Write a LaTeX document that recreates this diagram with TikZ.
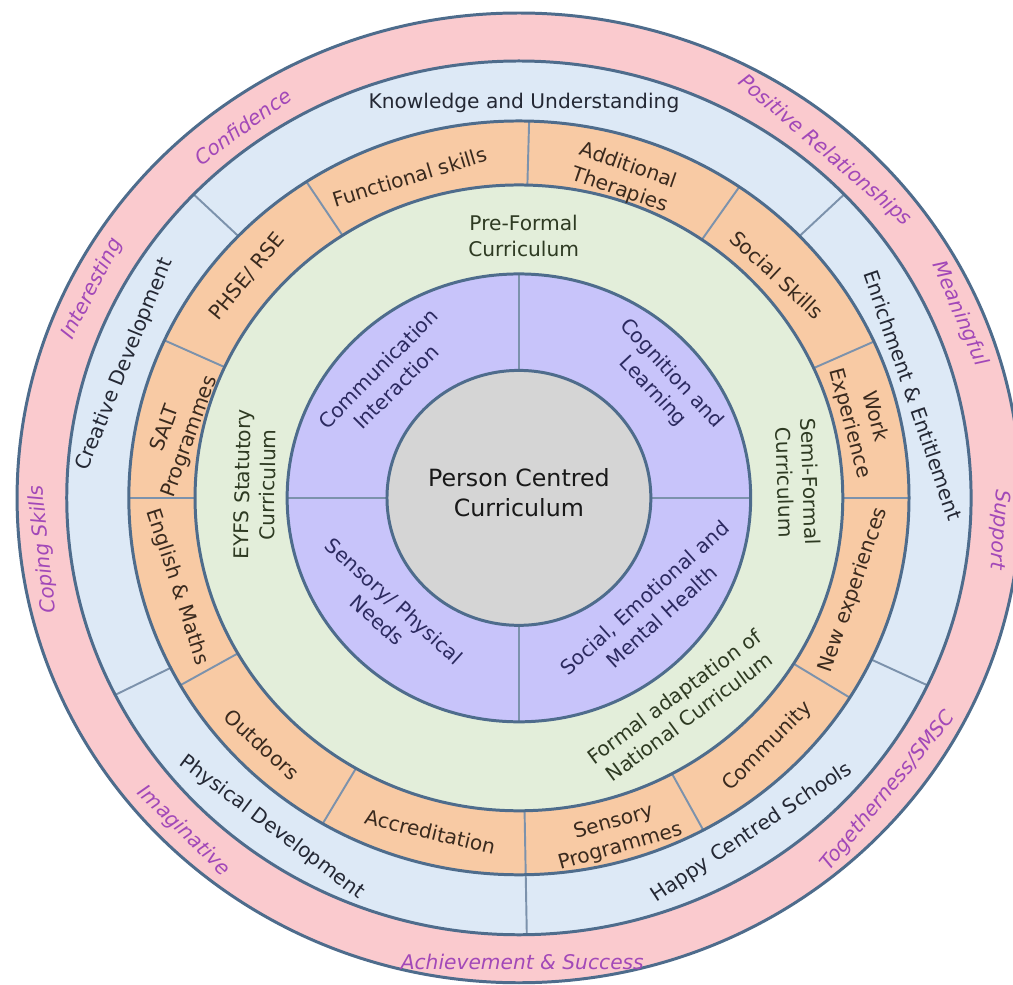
\documentclass[tikz,border=0pt]{standalone}
\usepackage{fontspec}
\setmainfont{DejaVu Sans}
\usepackage{xcolor}
\usepackage{tikz}
\definecolor{pinkband}{RGB}{250,202,206}
\definecolor{blueband}{RGB}{221,233,246}
\definecolor{orangeband}{RGB}{248,202,164}
\definecolor{greenband}{RGB}{227,238,218}
\definecolor{purpleband}{RGB}{200,196,250}
\definecolor{greyband}{RGB}{213,213,213}
\definecolor{ringline}{RGB}{78,108,140}
\definecolor{spokeline}{RGB}{124,146,172}
\definecolor{valuecol}{RGB}{162,72,184}
\definecolor{needcol}{RGB}{44,42,96}
\definecolor{currcol}{RGB}{46,58,34}
\definecolor{offercol}{RGB}{58,42,30}
\definecolor{aimcol}{RGB}{36,40,52}
\tikzstyle{ring} = [draw=ringline, line width=1.7pt]
\tikzstyle{spoke} = [draw=spokeline, line width=1.1pt]
\tikzstyle{lbl} = [align=center, inner sep=0pt]
\tikzstyle{valuetext} = [lbl, text=valuecol, font=\fontsize{11.5}{14.5}\selectfont\itshape]
\tikzstyle{aimtext} = [lbl, text=aimcol]
\tikzstyle{offertext} = [lbl, text=offercol]
\tikzstyle{currtext} = [lbl, text=currcol]
\tikzstyle{needtext} = [lbl, text=needcol]
\tikzstyle{core} = [lbl, text=black!90, font=\fontsize{13.5}{17}\selectfont]

\begin{document}
\begin{tikzpicture}[xscale=1.035, font=\fontsize{11.5}{14.5}\selectfont]
    \useasboundingbox[fill=white] (-10.03,-9.74) rectangle (9.55,9.96);
    \foreach \rad/\col in {9.70/pinkband, 8.74/blueband, 7.54/orangeband, 6.26/greenband, 4.48/purpleband, 2.55/greyband}
        \fill[\col] (0,0) circle (\rad);
    \foreach \ang in {0,90,180,270}
        \draw[spoke] (\ang:2.55) -- (\ang:4.48);
    \foreach \ang in {88.5,55.6,24.5,0,-32,-61.8,-89,-120.2,-150.2,180,155.3,123}
        \draw[spoke] (\ang:6.26) -- (\ang:7.54);
    \foreach \ang in {44,136,206.8,-89,-25.4}
        \draw[spoke] (\ang:7.54) -- (\ang:8.74);
    \foreach \rad in {9.70,8.74,7.54,6.26,4.48,2.55}
        \draw[ring] (0,0) circle (\rad);

    \node[core] (core) at (0,0.1) {Person Centred\\Curriculum};

    \node[needtext, rotate=45] (comm) at (136.7:3.50) {Communication\\Interaction};
    \node[needtext, rotate=-47] (cogn) at (39.8:3.60) {Cognition and\\Learning};
    \node[needtext, rotate=-42] (sens) at (221.3:3.42) {Sensory/ Physical\\Needs};
    \node[needtext, rotate=42] (semh) at (-40.1:3.39) {Social, Emotional and\\Mental Health};

    \node[currtext] (preformal) at (89:5.24) {Pre-Formal\\Curriculum};
    \node[currtext, rotate=-88] (semiformal) at (3.4:5.40) {Semi-Formal\\Curriculum};
    \node[currtext, rotate=89] (eyfs) at (177:5.11) {EYFS Statutory\\Curriculum};
    \node[currtext, rotate=36.5] (formal) at (-53:5.23) {Formal adaptation of\\National Curriculum};

    \node[offertext, rotate=17] (functional) at (108.2:6.76) {Functional skills};
    \node[offertext, rotate=-19] (therapies) at (72.4:6.71) {Additional\\Therapies};
    \node[offertext, rotate=-43] (socialsk) at (41.8:6.69) {Social Skills};
    \node[offertext, rotate=-75] (work) at (13.2:6.81) {Work\\Experience};
    \node[offertext, rotate=71] (newexp) at (-15.9:6.73) {New experiences};
    \node[offertext, rotate=45] (community) at (-46:6.92) {Community};
    \node[offertext, rotate=15.7] (sensprog) at (-74.3:7.0) {Sensory\\Programmes};
    \node[offertext, rotate=-13.5] (accred) at (255.6:6.9) {Accreditation};
    \node[offertext, rotate=-43] (outdoors) at (224.8:7.0) {Outdoors};
    \node[offertext, rotate=-72] (engmaths) at (195.1:6.84) {English \& Maths};
    \node[offertext, rotate=70] (salt) at (168.8:6.72) {SALT\\Programmes};
    \node[offertext, rotate=50.5] (phse) at (139.9:6.87) {PHSE/ RSE};

    \node[aimtext] (knowledge) at (89.3:7.90) {Knowledge and Understanding};
    \node[aimtext, rotate=68] (creative) at (160.7:8.07) {Creative Development};
    \node[aimtext, rotate=-37] (physical) at (234.1:8.14) {Physical Development};
    \node[aimtext, rotate=33.5] (happy) at (-56.1:8.07) {Happy Centred Schools};
    \node[aimtext, rotate=-71] (enrich) at (15.1:7.89) {Enrichment \& Entitlement};

    \node[valuetext, rotate=36] (confidence) at (125.7:9.15) {Confidence};
    \node[valuetext, rotate=63] (interesting) at (153.1:9.25) {Interesting};
    \node[valuetext, rotate=96] (coping) at (186.4:9.25) {Coping Skills};
    \node[valuetext, rotate=-44] (imaginative) at (225.8:9.30) {Imaginative};
    \node[valuetext] (achieve) at (-89.6:9.28) {Achievement \& Success};
    \node[valuetext, rotate=50.5] (together) at (-39.4:9.24) {Togetherness/SMSC};
    \node[valuetext, rotate=-94] (support) at (-3.9:9.30) {Support};
    \node[valuetext, rotate=-66.5] (meaningful) at (23.4:9.28) {Meaningful};
    \node[valuetext, rotate=-40.5] (positive) at (49.6:9.12) {Positive Relationships};
\end{tikzpicture}
\end{document}
